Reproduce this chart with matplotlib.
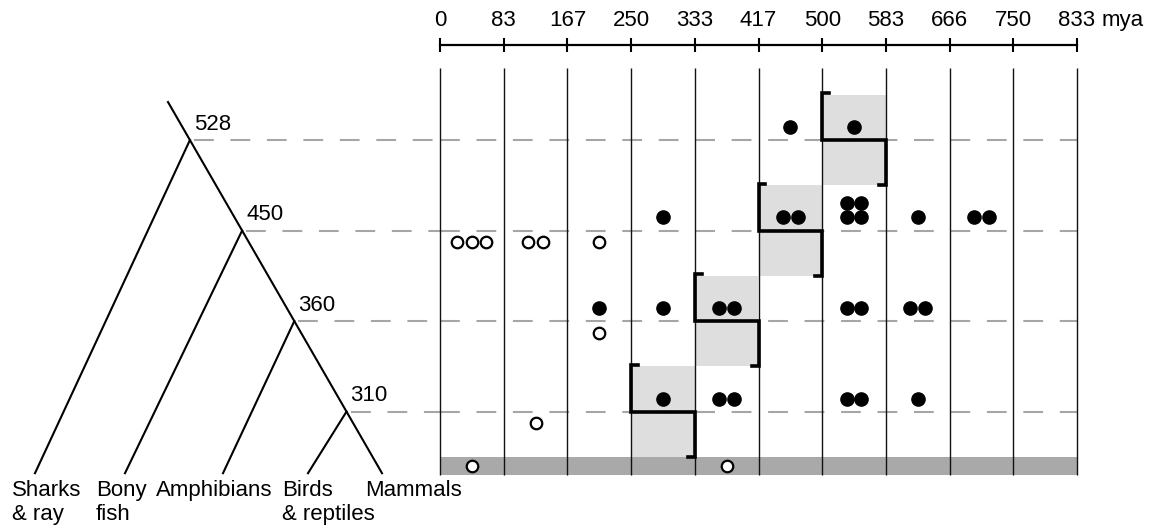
import numpy as np
import matplotlib.pyplot as plt

plt.rcParams["font.family"] = ["Liberation Sans", "DejaVu Sans"]

# time scale (million years ago), ten equal bins
bin_edges = np.linspace(0, 833.33, 11)
tick_labels = ["0", "83", "167", "250", "333", "417", "500", "583", "666", "750", "833"]

# divergence nodes of the tree, oldest first, and the leaves
node_ages = [528, 450, 360, 310]
taxa = ["Sharks\n& ray", "Bony\nfish", "Amphibians", "Birds\n& reptiles", "Mammals"]

# filled dots per time bin on each node row
filled_528 = [0, 0, 0, 0, 0, 1, 1, 0, 0, 0]
filled_450 = [0, 0, 0, 1, 0, 2, 4, 1, 2, 0]
filled_360 = [0, 0, 1, 1, 2, 0, 2, 2, 0, 0]
filled_310 = [0, 0, 0, 1, 2, 0, 2, 1, 0, 0]

# open dots per time bin below each node row, plus the base strip
open_528 = [0, 0, 0, 0, 0, 0, 0, 0, 0, 0]
open_450 = [3, 2, 1, 0, 0, 0, 0, 0, 0, 0]
open_360 = [0, 0, 1, 0, 0, 0, 0, 0, 0, 0]
open_310 = [0, 1, 0, 0, 0, 0, 0, 0, 0, 0]
open_base = [1, 0, 0, 0, 1, 0, 0, 0, 0, 0]

filled_rows = [filled_528, filled_450, filled_360, filled_310]
open_rows = [open_528, open_450, open_360, open_310]

FS = 16

# --- layout -------------------------------------------------------------
W, H = 1160, 529
fig = plt.figure(figsize=(W / 100, H / 100), dpi=100)
bottom = 1 - 475 / H
height = 430 / H
ylim = (3.7, -1.05)

ax_tree = fig.add_axes([0, bottom, 440 / W, height])
ax = fig.add_axes([440 / W, bottom, 637 / W, height])
ax.patch.set_alpha(0)

dash_kw = dict(color="#a6a6a6", lw=1.5, dashes=(9.5, 8), zorder=1)

# tree: a slanted cladogram, nodes sit on the spine running down to Mammals
tip_x = [35, 125, 223, 308, 382]
tip_y = 3.68
root_x, root_y = 168, -0.42
rows = np.arange(len(node_ages))
node_x = root_x + (rows - root_y) / (tip_y - root_y) * (tip_x[-1] - root_x)

ax_tree.plot([root_x, tip_x[-1]], [root_y, tip_y], color="black", lw=1.5)
for i, (nx, age) in enumerate(zip(node_x, node_ages)):
    ax_tree.plot([nx, tip_x[i]], [i, tip_y], color="black", lw=1.5)
    ax_tree.plot([nx + 4, 440], [i, i], **dash_kw)
    ax_tree.text(nx + 4, i - 0.06, str(age), fontsize=FS, ha="left", va="bottom")

# leaf names, one text per line so the lines can tuck under each other
label_dx = [-23, -29, -67, -26, -17]
line_step = 0.265
for x, dx, name in zip(tip_x, label_dx, taxa):
    for j, part in enumerate(name.split("\n")):
        ax_tree.text(x + dx, tip_y + 0.08 + j * line_step, part, fontsize=FS,
                     ha="left", va="top", clip_on=False)

ax_tree.set_xlim(0, 440)
ax_tree.set_ylim(*ylim)
ax_tree.axis("off")

# --- time grid ------------------------------------------------------------
width = bin_edges[1] - bin_edges[0]
centers = bin_edges[:-1] + width / 2

ax.bar(0, 0.2, width=bin_edges[-1], bottom=3.5, align="edge",
       color="#a9a9a9", zorder=0)
for i in rows:
    ax.plot([0, bin_edges[-1]], [i, i], **dash_kw)
ax.vlines(bin_edges, -0.8, 3.7, color="#111111", lw=1.0, zorder=2, clip_on=False)

# shaded bin holding each node age, with its step bracket
stub = 9
for i, age in enumerate(node_ages):
    k = int(np.searchsorted(bin_edges, age) - 1)
    left, right = bin_edges[k], bin_edges[k + 1]
    ax.bar(left, 1.0, width=width, bottom=i - 0.5, align="edge",
           color="#dedede", zorder=0.5)
    ax.plot([left + stub, left, left, right, right, right - stub],
            [i - 0.52, i - 0.52, i, i, i + 0.5, i + 0.5],
            color="black", lw=2.6, solid_joinstyle="miter", zorder=3)

sp = 19.0     # horizontal dot spacing (mya)
vsp = 0.155   # vertical spacing for stacked dots (rows)


def dot_positions(counts, y):
    xs, ys = [], []
    for c, n in zip(centers, counts):
        if n == 4:
            for dy in (0, -vsp):
                xs += [c - sp / 2, c + sp / 2]
                ys += [y + dy, y + dy]
        else:
            for j in range(n):
                xs.append(c + (j - (n - 1) / 2) * sp)
                ys.append(y)
    return xs, ys


for i in rows:
    xs, ys = dot_positions(filled_rows[i], i - 0.145)
    ax.plot(xs, ys, "o", ms=9.5, color="black", mec="black", zorder=4)
    xs, ys = dot_positions(open_rows[i], i + 0.13)
    ax.plot(xs, ys, "o", ms=8.3, mfc="white", mec="black", mew=1.6, zorder=4)

xs, ys = dot_positions(open_base, 3.6)
ax.plot(xs, ys, "o", ms=8.3, mfc="white", mec="black", mew=1.6, zorder=4)

ax.set_xlim(0, bin_edges[-1])
ax.set_ylim(*ylim)
ax.xaxis.tick_top()
ax.set_xticks(bin_edges, tick_labels)
ax.tick_params(axis="x", direction="inout", length=10, width=1.5, pad=5,
               labelsize=FS)
ax.set_yticks([])
for side in ("left", "right", "bottom"):
    ax.spines[side].set_visible(False)
ax.spines["top"].set_linewidth(1.6)
ax.annotate("mya", xy=(1, 1), xycoords="axes fraction", xytext=(18, 10),
            textcoords="offset points", fontsize=FS, ha="left", va="bottom")

fig.savefig("out.png", dpi=100)
